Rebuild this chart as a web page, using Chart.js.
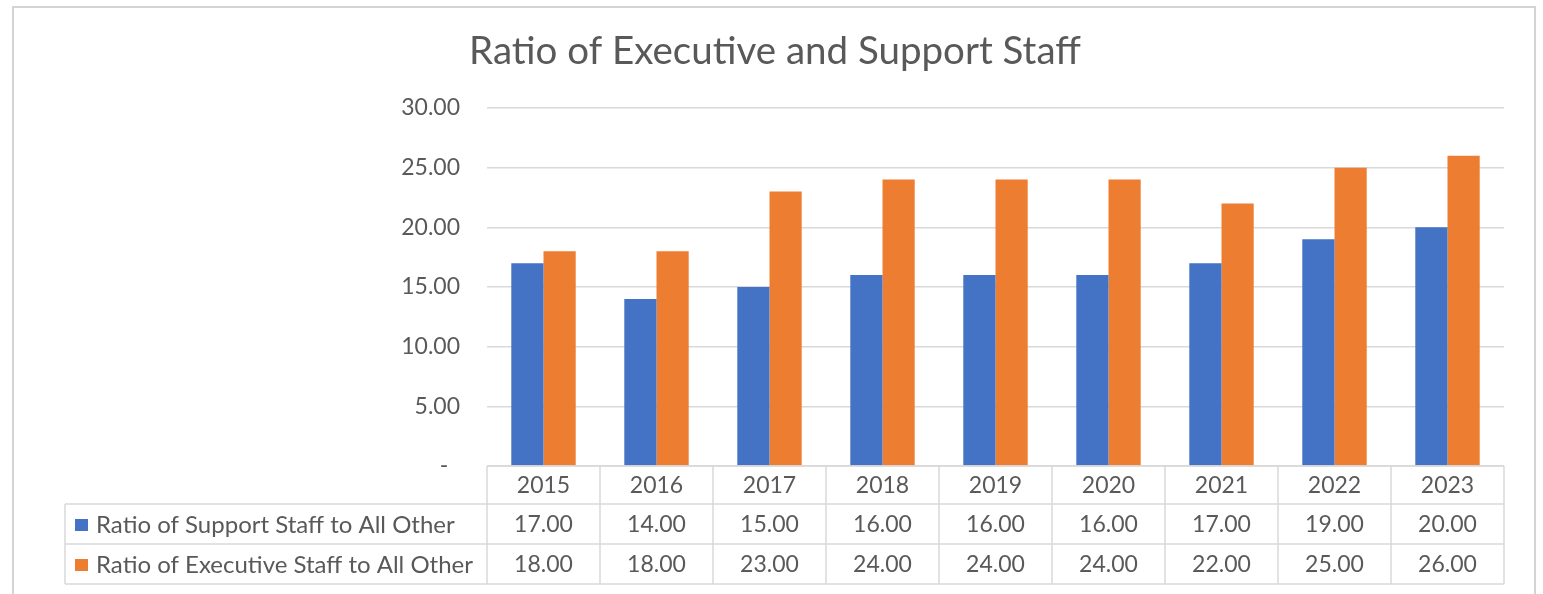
<!DOCTYPE html>
<html>
<head>
<meta charset="utf-8">
<script src="https://cdn.jsdelivr.net/npm/chart.js@4/dist/chart.umd.min.js"></script>
<style>
  html, body { margin: 0; padding: 0; background: #fff; }
  canvas { display: block; }
</style>
</head>
<body>
<canvas id="chart" width="1543" height="594"></canvas>
<script>
// ---- data ----
const years = ['2015', '2016', '2017', '2018', '2019', '2020', '2021', '2022', '2023'];
const supportRatio = [17, 14, 15, 16, 16, 16, 17, 19, 20];
const executiveRatio = [18, 18, 23, 24, 24, 24, 22, 25, 26];
const seriesNames = ['Ratio of Support Staff to All Other', 'Ratio of Executive Staff to All Other'];
const chartTitle = 'Ratio of Executive and Support Staff';
const yMin = 0, yMax = 30, yStep = 5;

// ---- style ----
const FONT = 'Lato, "Open Sans", "DejaVu Sans", sans-serif';
const TEXT = '#595959';
const LINE = '#d9d9d9';
const BLUE = '#4472C4';
const ORANGE = '#ED7D31';

// accounting-style number: dash for zero
function fmt(v) { return v === 0 ? '-  ' : v.toFixed(2); }

// outer chart frame and centred title
const frame = {
  id: 'frame',
  beforeDraw(chart) {
    const ctx = chart.ctx;
    ctx.save();
    ctx.fillStyle = '#fff';
    ctx.fillRect(0, 0, chart.width, chart.height);
    ctx.strokeStyle = '#d4d4d4';
    ctx.lineWidth = 2;
    ctx.strokeRect(13, 7, 1522, 600);
    ctx.fillStyle = TEXT;
    ctx.font = '38.5px ' + FONT;
    ctx.textAlign = 'center';
    ctx.textBaseline = 'alphabetic';
    ctx.fillText(chartTitle, 775, 64);
    ctx.restore();
  }
};

// data table under the plot, aligned to the category scale
const dataTable = {
  id: 'dataTable',
  afterDraw(chart) {
    const ctx = chart.ctx;
    const a = chart.chartArea;
    const xs = chart.scales.x;
    const n = chart.data.labels.length;
    const colW = (a.right - a.left) / n;
    const top = a.bottom;
    const headH = 38, rowH = 40, legendLeft = 65;
    const sets = chart.data.datasets;
    const bottom = top + headH + sets.length * rowH;

    ctx.save();
    ctx.strokeStyle = LINE;
    ctx.lineWidth = 1.5;
    const seg = (x1, y1, x2, y2) => { ctx.beginPath(); ctx.moveTo(x1, y1); ctx.lineTo(x2, y2); ctx.stroke(); };

    seg(a.left, top, a.right, top);
    for (let r = 0; r <= sets.length; r++) {
      const y = top + headH + r * rowH;
      seg(legendLeft, y, a.right, y);
    }
    for (let i = 0; i <= n; i++) {
      const x = a.left + i * colW;
      seg(x, top, x, bottom);
    }
    seg(legendLeft, top + headH, legendLeft, bottom);

    ctx.fillStyle = TEXT;
    ctx.font = '23px ' + FONT;
    ctx.textAlign = 'center';
    ctx.textBaseline = 'middle';
    chart.data.labels.forEach((lab, i) => {
      ctx.fillText(lab, xs.getPixelForValue(i), top + headH / 2 + 1);
    });
    sets.forEach((ds, r) => {
      const cy = top + headH + r * rowH + rowH / 2 + 1;
      ctx.font = '23px ' + FONT;
      ds.data.forEach((v, i) => {
        ctx.fillStyle = TEXT;
        ctx.textAlign = 'center';
        ctx.fillText(fmt(v), xs.getPixelForValue(i), cy);
      });
      ctx.fillStyle = ds.backgroundColor;
      ctx.fillRect(75, cy - 6, 13, 12);
      ctx.fillStyle = TEXT;
      ctx.textAlign = 'left';
      ctx.font = '24px ' + FONT;
      ctx.fillText(ds.label, 96, cy);
    });
    ctx.restore();
  }
};

new Chart(document.getElementById('chart'), {
  type: 'bar',
  data: {
    labels: years,
    datasets: [
      { label: seriesNames[0], data: supportRatio, backgroundColor: BLUE },
      { label: seriesNames[1], data: executiveRatio, backgroundColor: ORANGE }
    ]
  },
  options: {
    responsive: false,
    animation: false,
    events: [],
    layout: { padding: { left: 12, right: 39, top: 108, bottom: 128 } },
    datasets: { bar: { categoryPercentage: 0.57, barPercentage: 1.0 } },
    plugins: {
      legend: { display: false },
      tooltip: { enabled: false },
      title: { display: false }
    },
    scales: {
      x: { display: false },
      y: {
        min: yMin,
        max: yMax,
        afterFit(scale) { scale.width = 475; },
        border: { display: false },
        grid: { color: LINE, lineWidth: 1.5, drawTicks: false },
        ticks: {
          stepSize: yStep,
          padding: 27,
          color: TEXT,
          font: { family: FONT, size: 23 },
          callback: (v) => fmt(v)
        }
      }
    }
  },
  plugins: [frame, dataTable]
});
</script>
</body>
</html>
